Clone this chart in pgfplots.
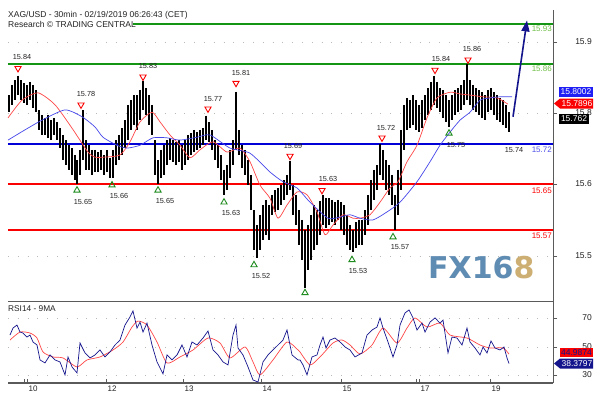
\documentclass[border=0pt]{standalone}
\usepackage{pgfplots}
\pgfplotsset{compat=1.18}
\usepackage{pgfplotstable}
\usepackage{fontspec}
\setmainfont{Liberation Sans}
\newfontfamily\dejavu{DejaVu Sans}
\usetikzlibrary{arrows.meta}
\definecolor{lvlgreen}{RGB}{20,150,20}
\definecolor{lblgreen}{RGB}{110,190,70}
\definecolor{lvlred}{RGB}{250,0,0}
\definecolor{lvlblue}{RGB}{0,0,215}
\definecolor{lblblue}{RGB}{80,80,235}
\definecolor{maRed}{RGB}{255,70,70}
\definecolor{maBlue}{RGB}{70,70,235}
\definecolor{navyA}{RGB}{20,20,140}
\definecolor{txt}{RGB}{35,35,35}
\definecolor{fxblue}{RGB}{95,140,178}
\definecolor{fxgold}{RGB}{205,175,115}
\definecolor{axgray}{RGB}{90,90,90}
\definecolor{triGreen}{RGB}{30,140,30}
\definecolor{boxblue}{RGB}{30,30,245}
\newcommand{\fs}[1]{\fontsize{#1}{#1}\selectfont}

\pgfplotstableread{
x low high
9 15.776 15.806
12 15.789 15.824
15 15.797 15.832
18 15.806 15.840
21 15.797 15.832
24 15.792 15.827
27 15.789 15.824
30 15.797 15.829
33 15.783 15.824
36 15.776 15.815
39 15.745 15.780
42 15.736 15.771
45 15.736 15.766
48 15.731 15.771
51 15.727 15.762
54 15.736 15.766
57 15.727 15.759
60 15.713 15.748
63 15.692 15.736
66 15.683 15.727
69 15.675 15.718
72 15.666 15.713
75 15.657 15.701
77 15.650 15.692
80 15.666 15.710
83 15.692 15.780
86 15.675 15.727
89 15.675 15.718
92 15.666 15.710
95 15.671 15.710
98 15.671 15.706
101 15.675 15.710
104 15.666 15.701
107 15.671 15.710
110 15.660 15.696
113 15.661 15.710
116 15.683 15.727
119 15.692 15.736
122 15.701 15.748
125 15.713 15.762
128 15.727 15.789
131 15.745 15.797
134 15.754 15.806
137 15.745 15.806
140 15.762 15.815
143 15.780 15.830
146 15.771 15.818
149 15.754 15.806
152 15.736 15.789
155 15.666 15.727
158 15.650 15.692
161 15.661 15.710
164 15.666 15.718
167 15.683 15.727
170 15.692 15.731
173 15.689 15.727
176 15.683 15.724
179 15.689 15.727
182 15.675 15.718
185 15.683 15.727
188 15.692 15.736
191 15.701 15.739
194 15.706 15.745
197 15.710 15.741
200 15.713 15.745
203 15.718 15.748
206 15.727 15.770
209 15.724 15.759
212 15.710 15.745
215 15.692 15.727
218 15.678 15.718
221 15.657 15.701
224 15.630 15.675
227 15.639 15.683
230 15.661 15.710
233 15.683 15.727
236 15.710 15.812
239 15.701 15.745
242 15.678 15.718
245 15.666 15.710
248 15.648 15.692
251 15.604 15.666
254 15.534 15.604
257 15.520 15.578
260 15.534 15.596
263 15.552 15.613
266 15.561 15.622
269 15.552 15.613
272 15.596 15.631
275 15.601 15.639
278 15.604 15.643
281 15.613 15.648
284 15.622 15.657
287 15.631 15.666
290 15.639 15.690
293 15.596 15.648
296 15.578 15.631
299 15.543 15.604
302 15.517 15.587
305 15.468 15.569
308 15.499 15.578
311 15.517 15.596
314 15.534 15.613
317 15.543 15.604
320 15.561 15.620
323 15.578 15.630
326 15.573 15.625
329 15.578 15.625
332 15.583 15.622
335 15.578 15.618
338 15.587 15.622
341 15.569 15.618
344 15.561 15.613
347 15.543 15.596
350 15.534 15.578
353 15.530 15.569
356 15.538 15.583
359 15.543 15.587
362 15.543 15.587
365 15.561 15.604
368 15.578 15.631
371 15.604 15.657
374 15.622 15.675
377 15.639 15.683
380 15.666 15.720
383 15.657 15.710
386 15.639 15.692
389 15.631 15.683
392 15.613 15.666
395 15.570 15.631
398 15.596 15.675
401 15.639 15.745
404 15.710 15.789
407 15.745 15.801
410 15.748 15.797
413 15.754 15.806
416 15.745 15.797
419 15.741 15.789
422 15.748 15.797
425 15.762 15.806
428 15.771 15.818
431 15.780 15.829
434 15.789 15.840
437 15.783 15.829
440 15.776 15.818
443 15.766 15.815
446 15.759 15.806
449 15.750 15.797
452 15.762 15.806
455 15.771 15.815
458 15.776 15.818
461 15.780 15.824
464 15.789 15.832
467 15.797 15.860
470 15.789 15.832
473 15.780 15.824
476 15.776 15.818
479 15.771 15.815
482 15.766 15.811
485 15.762 15.806
488 15.776 15.815
491 15.780 15.818
494 15.771 15.811
497 15.762 15.806
500 15.759 15.801
503 15.754 15.797
506 15.748 15.789
509 15.741 15.776
}\bars

\pgfplotstableread{
x ma
8 15.766
22 15.797
38 15.810
55 15.789
72 15.748
88 15.706
95 15.697
103 15.697
120 15.701
130 15.724
140 15.759
152 15.776
160 15.759
170 15.736
180 15.718
190 15.696
200 15.710
213 15.724
227 15.706
240 15.713
250 15.689
260 15.648
270 15.625
278 15.590
287 15.613
297 15.636
307 15.631
317 15.601
325 15.561
333 15.578
343 15.596
353 15.590
360 15.590
370 15.596
380 15.618
390 15.643
398 15.654
407 15.689
417 15.718
427 15.766
437 15.801
450 15.811
460 15.808
470 15.806
483 15.803
497 15.801
508 15.790
}\maRedT

\pgfplotstableread{
x ma
8 15.727
25 15.745
42 15.762
65 15.780
82 15.768
95 15.750
103 15.732
117 15.718
127 15.713
140 15.718
153 15.731
167 15.731
180 15.727
197 15.732
210 15.736
230 15.713
250 15.704
270 15.671
283 15.654
297 15.643
310 15.618
328 15.590
340 15.592
350 15.596
360 15.590
373 15.587
387 15.601
400 15.618
417 15.654
430 15.689
440 15.718
450 15.741
460 15.762
470 15.776
480 15.797
490 15.801
500 15.803
512 15.803
}\maBlueT

\pgfplotstableread{
x rsi
10 58.4
13 63.3
17 65.4
20 60.5
23 59.8
27 57.0
30 58.4
33 53.5
37 51.4
40 40.9
45 38.8
50 44.4
55 40.9
60 39.5
65 30.4
68 43.0
72 36.0
77 31.8
80 52.8
85 45.8
90 42.3
95 44.4
100 47.9
105 43.0
110 46.5
115 51.4
120 54.9
125 65.4
130 71.1
133 75.3
137 63.3
140 67.5
143 60.5
147 66.8
152 51.4
157 39.5
163 31.1
167 44.4
172 40.9
177 44.4
182 51.4
187 43.0
192 53.5
197 51.4
203 56.3
208 61.2
213 47.9
218 44.4
223 39.5
228 37.4
233 58.4
236 65.4
238 49.3
243 44.4
248 36.0
253 26.8
258 25.4
263 39.5
268 44.4
273 47.9
278 51.4
283 54.9
287 61.9
292 44.4
298 40.9
300 40.9
303 37.4
307 30.4
312 43.0
317 44.4
320 51.4
323 57.0
326 49.3
330 54.9
335 56.3
340 53.5
345 50.0
350 47.9
355 43.0
362 45.8
367 58.4
372 61.9
377 64.0
380 70.4
383 63.3
388 53.5
393 43.0
397 51.4
400 65.4
405 73.9
409 76.0
413 70.4
417 61.9
422 66.8
425 60.5
430 67.5
435 70.4
440 66.8
443 68.9
448 45.8
452 57.0
457 56.3
462 51.4
467 63.3
470 53.5
475 49.3
480 44.4
483 50.0
487 45.8
491 54.2
495 49.3
500 47.9
504 50.0
507 42.3
509 38.4
}\rsiT

\pgfplotstableread{
x ma
10 54.9
20 60.5
30 59.8
37 56.3
43 46.5
53 43.0
63 42.3
77 36.0
87 40.9
100 43.0
113 47.9
123 53.5
132 64.0
138 68.2
147 65.4
157 53.5
167 38.8
180 43.0
193 47.9
208 56.3
220 52.8
230 42.3
245 50.0
253 39.5
260 30.4
273 40.9
287 53.5
298 47.9
300 46.5
310 37.4
320 43.0
333 52.8
342 54.9
350 51.4
360 45.1
372 51.4
383 63.3
397 52.8
407 63.3
415 70.4
427 64.0
440 66.8
450 58.4
467 56.3
480 51.4
490 49.3
503 49.3
509 45.0
}\rsiMaT

\begin{document}
\begin{tikzpicture}[x=1pt,y=1pt]
\useasboundingbox (0,0) rectangle (601,397);
\fill[white] (0,0) rectangle (601,397);
% ---------------- main price panel ----------------
\begin{axis}[at={(8pt,96pt)}, anchor=south west, scale only axis,
  width=545pt, height=291pt,
  xmin=8, xmax=553, ymin=15.4447, ymax=15.9553,
  clip=false,
  axis x line*=bottom, axis y line*=right,
  axis line style={-, draw=axgray, line width=0.7pt},
  xtick=\empty,
  ytick={15.5237,15.65,15.7746,15.899}, yticklabels={},
  ytick align=outside, major tick length=4pt,
  tick style={draw=axgray, line width=0.6pt},
  ymajorgrids, grid style={draw=gray!55, line width=0.5pt, dash pattern=on 0.8pt off 9pt},
]
% level lines
\addplot[draw=lvlgreen, line width=2pt] coordinates {(133,15.93) (553,15.93)};
\addplot[draw=lvlgreen, line width=2pt] coordinates {(8,15.86) (553,15.86)};
\addplot[draw=lvlblue, line width=2pt] coordinates {(8,15.72) (553,15.72)};
\addplot[draw=lvlred, line width=2pt] coordinates {(8,15.65) (553,15.65)};
\addplot[draw=lvlred, line width=2pt] coordinates {(8,15.57) (553,15.57)};
% price bars (high-low)
\addplot[black, forget plot, only marks, mark=text, text mark={}, line width=2.7pt,
  error bars/.cd, y dir=minus, y explicit, error mark=none,
  error bar style={draw=black, line width=2.7pt}]
  table[x=x, y=high, y error expr=\thisrow{high}-\thisrow{low}] {\bars};
% moving averages
\addplot[draw=maRed, line width=0.7pt, smooth, tension=0.4] table[x=x, y=ma] {\maRedT};
\addplot[draw=maBlue, line width=0.7pt, smooth, tension=0.4] table[x=x, y=ma] {\maBlueT};
% arrow
\addplot[draw=navyA, fill=navyA, line width=1.6pt, -{Triangle[length=11pt, width=8pt]}] coordinates {(513,15.768) (527,15.937)};
% triangles
\addplot[only marks, mark=triangle, mark size=3.6pt, mark options={rotate=180, draw=lvlred, fill=white, line width=0.9pt}]
  coordinates {(18,15.853) (81,15.789) (143,15.838) (208,15.782) (236,15.827) (290,15.699) (322,15.639) (382,15.731) (435,15.850) (468,15.868)};
\addplot[only marks, mark=triangle, mark size=3.6pt, mark options={draw=triGreen, fill=white, line width=0.9pt}]
  coordinates {(77,15.639) (112,15.648) (158,15.639) (224,15.618) (254,15.508) (305,15.459) (352,15.517) (393,15.557) (449,15.739)};
% price labels
\begin{scope}[every node/.style={font=\fs{7.3}, text=txt, inner sep=0pt}]
\node at (axis cs:22,15.873) {15.84};
\node at (axis cs:86,15.808) {15.78};
\node at (axis cs:148,15.857) {15.83};
\node at (axis cs:213,15.799) {15.77};
\node at (axis cs:241,15.845) {15.81};
\node at (axis cs:293,15.717) {15.69};
\node at (axis cs:328,15.659) {15.63};
\node at (axis cs:386,15.748) {15.72};
\node at (axis cs:441,15.869) {15.84};
\node at (axis cs:472,15.887) {15.86};
\node at (axis cs:83,15.618) {15.65};
\node at (axis cs:119,15.629) {15.66};
\node at (axis cs:165,15.620) {15.65};
\node at (axis cs:231,15.599) {15.63};
\node at (axis cs:261,15.489) {15.52};
\node at (axis cs:358,15.497) {15.53};
\node at (axis cs:400,15.539) {15.57};
\node at (axis cs:456,15.718) {15.75};
\node at (axis cs:514,15.710) {15.74};
\end{scope}
\begin{scope}[every node/.style={font=\fs{8}, inner sep=0pt, anchor=east}]
\node[text=lblgreen] at (axis cs:552,15.923) {15.93};
\node[text=lblgreen] at (axis cs:552,15.852) {15.86};
\node[text=lblblue] at (axis cs:552,15.710) {15.72};
\node[text=lvlred] at (axis cs:552,15.639) {15.65};
\node[text=lvlred] at (axis cs:552,15.559) {15.57};
\end{scope}
\end{axis}
% ---------------- RSI panel ----------------
\begin{axis}[at={(8pt,14pt)}, anchor=south west, scale only axis,
  width=545pt, height=82pt,
  xmin=8, xmax=553, ymin=24.7, ymax=82.3,
  clip=false,
  axis x line*=bottom, axis y line*=right,
  x axis line style={-, draw=axgray, line width=1.8pt},
  y axis line style={-, draw=axgray, line width=0.7pt},
  xtick={27,106,183,261,341,419,490}, xticklabels={10,12,13,14,15,17,19},
  extra x ticks={24,416}, extra x tick labels={},
  xtick align=inside,
  xticklabel style={font=\fs{8}, text=txt, anchor=north west, inner sep=0pt, xshift=1.5pt, yshift=-3pt},
  ytick={30,50,70}, yticklabels={},
  ytick align=outside, major tick length=4pt,
  tick style={draw=axgray, line width=0.6pt},
  ymajorgrids, grid style={draw=gray!55, line width=0.5pt, dash pattern=on 0.8pt off 9pt},
]
\addplot[draw=maRed, line width=0.7pt, smooth, tension=0.4] table[x=x, y=ma] {\rsiMaT};
\addplot[draw=navyA, line width=0.7pt] table[x=x, y=rsi] {\rsiT};
\end{axis}
% ---------------- texts ----------------
\node[anchor=base west, inner sep=0pt, font=\fs{8.5}, text=txt] at (8,379) {XAG/USD - 30min - 02/19/2019 06:26:43 (CET)};
\node[anchor=base west, inner sep=0pt, font=\fs{8.5}, text=txt] at (8,369) {Research © TRADING CENTRAL};
\node[anchor=base west, inner sep=0pt, font=\fs{8.3}, text=txt] at (8,86) {RSI14 - 9MA};
\node[anchor=base west, inner sep=0pt, font=\dejavu\bfseries\fs{30}] at (428,119) {\textcolor{fxblue}{FX16}\textcolor{fxgold}{8}};
\begin{scope}[every node/.style={font=\fs{8.5}, text=txt, inner sep=0pt, anchor=east}]
\node at (592,355) {15.9};
\node at (592,284) {15.8};
\node at (592,213) {15.6};
\node at (592,141) {15.5};
\node at (592,79) {70};
\node at (592,50) {50};
\node at (592,22) {30};
\end{scope}
% value boxes
\node[fill=boxblue, text=white, inner sep=0pt, minimum width=34pt, minimum height=10pt, font=\fs{8.5}] at (576,305) {15.8002};
\fill[lvlred] (554,293.5) -- (560,298.5) -- (593,298.5) -- (593,288.5) -- (560,288.5) -- cycle;
\node[text=white, inner sep=0pt, font=\fs{8.5}] at (577,293.5) {15.7896};
\node[fill=black, text=white, inner sep=0pt, minimum width=30pt, minimum height=10pt, font=\fs{8.5}] at (574,278) {15.762};
\node[fill=lvlred, text=navyA, inner sep=0pt, minimum width=33pt, minimum height=9.5pt, font=\fs{8.5}] at (576.5,44.5) {44.9874};
\fill[navyA] (554,33.5) -- (560,38.5) -- (593,38.5) -- (593,28.5) -- (560,28.5) -- cycle;
\node[text=white, inner sep=0pt, font=\fs{8.5}] at (577,33.5) {38.3797};
\end{tikzpicture}
\end{document}
